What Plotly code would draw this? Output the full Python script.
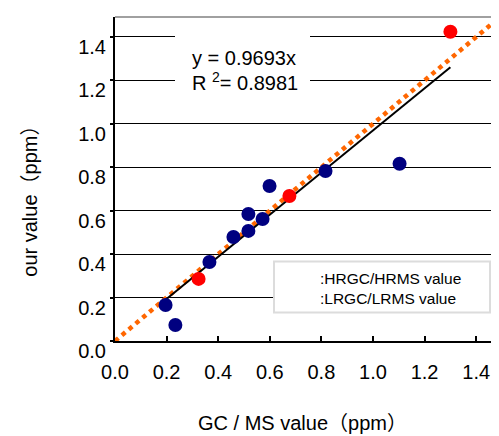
import plotly.graph_objects as go

# ---- data ----
lr_x = [0.196, 0.234, 0.366, 0.459, 0.517, 0.517, 0.572, 0.599, 0.816, 1.103]
lr_y = [0.166, 0.074, 0.364, 0.479, 0.507, 0.585, 0.562, 0.714, 0.783, 0.816]
hr_x = [0.324, 0.676, 1.300]
hr_y = [0.286, 0.668, 1.424]
slope = 0.9693
r2 = 0.8981
tick_vals = [0.0, 0.2, 0.4, 0.6, 0.8, 1.0, 1.2, 1.4]
tick_text = ["0.0", "0.2", "0.4", "0.6", "0.8", "1.0", "1.2", "1.4"]
legend_labels = [":HRGC/HRMS value", ":LRGC/LRMS value"]
x_title = "GC / MS value（ppm）"
y_title = "our value（ppm）"

FONT = "Arial, Liberation Sans, Noto Sans CJK JP, sans-serif"
OFF = 8  # page body margin
W, H = 499 - OFF, 436 - OFF
PL, PR, PT, PB = 115, 499, 17, 341.5  # plot area in screen px
L, T = PL - OFF, PT - OFF
R = 0
B = H - (PB - OFF)
XS = 258.0   # px per unit x
YS = 217.5   # px per unit y
x_max = (W - L - R) / XS
y_max = (H - T - B) / YS

all_x = lr_x + hr_x
fit_x = [min(all_x), max(all_x)]
fit_y = [slope * v for v in fit_x]
one_x = [0.0, 1.5]
one_y = list(one_x)

fig = go.Figure()
fig.add_trace(go.Scatter(x=one_x, y=one_y, mode="lines",
                         line=dict(color="#ff6600", width=4.5, dash="dot"),
                         showlegend=False, hoverinfo="skip"))
fig.add_trace(go.Scatter(x=fit_x, y=fit_y, mode="lines",
                         line=dict(color="black", width=2),
                         showlegend=False, hoverinfo="skip"))
fig.add_trace(go.Scatter(x=lr_x, y=lr_y, mode="markers",
                         marker=dict(color="#000080", size=14),
                         name=legend_labels[1], showlegend=False))
fig.add_trace(go.Scatter(x=hr_x, y=hr_y, mode="markers",
                         marker=dict(color="#ff0000", size=14),
                         name=legend_labels[0], showlegend=False))

def px2x(px):
    return (px - PL) / XS

def py2y(py):
    return (PB - py) / YS

def ppx(px):
    return (px - PL) / (PR - PL)

def ppy(py):
    return (PB - py) / (PB - PT)

shapes = [
    dict(type="line", xref="paper", yref="paper", x0=0, x1=1, y0=1, y1=1,
         line=dict(color="#a0a0a0", width=2), layer="above"),
    dict(type="rect", xref="x", yref="y", x0=px2x(175), x1=px2x(310),
         y0=py2y(97), y1=py2y(26), fillcolor="white", line=dict(width=0),
         layer="above"),
    dict(type="rect", xref="x", yref="y", x0=px2x(274), x1=px2x(490),
         y0=py2y(313), y1=py2y(262), fillcolor="white",
         line=dict(color="#dcdcdc", width=2), layer="above"),
]

annotations = [
    dict(x=px2x(190), y=py2y(58), xref="x", yref="y", xanchor="left", yanchor="middle",
         text=f"y = {slope}x", showarrow=False, font=dict(family=FONT, size=20, color="black")),
    dict(x=px2x(190), y=py2y(82), xref="x", yref="y", xanchor="left", yanchor="middle",
         text=f"R <sup>2</sup>= {r2}", showarrow=False, font=dict(family=FONT, size=20, color="black")),
    dict(x=px2x(318), y=py2y(289), xref="x", yref="y", xanchor="left", yanchor="middle",
         text="<br>".join(legend_labels), showarrow=False, align="left",
         font=dict(family=FONT, size=15.5, color="black")),
    dict(x=ppx(302), y=ppy(424), xref="paper", yref="paper",
         xanchor="center", yanchor="middle",
         text=x_title, showarrow=False, font=dict(family=FONT, size=20, color="black")),
    dict(x=ppx(30), y=ppy(197), xref="paper", yref="paper",
         xanchor="center", yanchor="middle",
         text=y_title, showarrow=False, textangle=-90,
         font=dict(family=FONT, size=20, color="black")),
]

fig.update_layout(
    width=W, height=H,
    margin=dict(l=L, r=R, t=T, b=B, pad=0),
    paper_bgcolor="white", plot_bgcolor="white",
    shapes=shapes, annotations=annotations,
    font=dict(family=FONT, size=20, color="black"),
    xaxis=dict(range=[0, x_max], tickvals=tick_vals, ticktext=tick_text,
               showgrid=False, zeroline=False, showline=True,
               linecolor="black", linewidth=2, ticks="inside", ticklen=5,
               tickcolor="black", tickwidth=1.5, ticklabelstandoff=12,
               tickfont=dict(family=FONT, size=20, color="black")),
    yaxis=dict(range=[0, y_max], tickvals=tick_vals, ticktext=tick_text,
               showgrid=True, gridcolor="black", gridwidth=1.3, zeroline=False,
               showline=True, linecolor="black", linewidth=2, ticks="outside",
               ticklen=3, tickcolor="black", tickwidth=1.5, ticklabelstandoff=0,
               ticklabelshift=10,
               tickfont=dict(family=FONT, size=20, color="black")),
)

fig.write_html("out.html")
